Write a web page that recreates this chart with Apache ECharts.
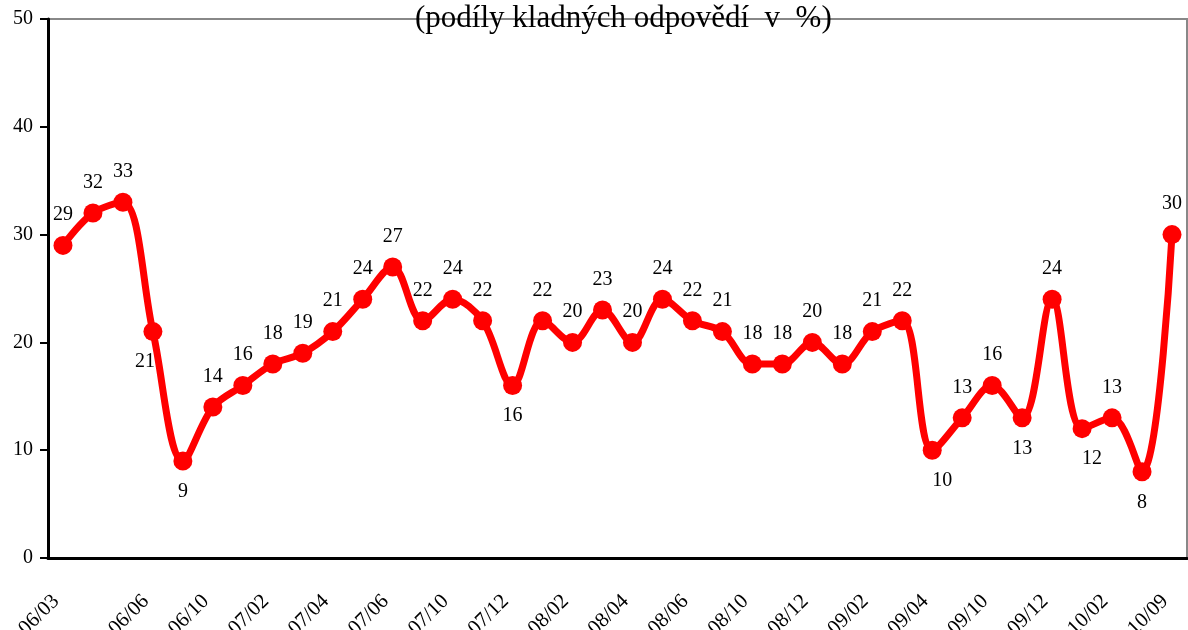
<!DOCTYPE html>
<html>
<head>
	<meta charset="UTF-8">
	<title>podíly kladných odpovědí</title>
	<script src="https://cdn.jsdelivr.net/npm/echarts@6/dist/echarts.min.js"></script>
	<style>
		html, body {
			margin: 0;
			padding: 0;
			background: #fff;
		}
		#main {
			width: 1188px;
			height: 630px;
		}
	</style>
</head>
<body>
<div id="main"></div>
<script type="text/javascript">
    // osa x - popisky jen u některých šetření
    var tickLabels = [
        '06/03', '', '', '06/06', '', '06/10', '', '07/02', '', '07/04',
        '', '07/06', '', '07/10', '', '07/12', '', '08/02', '', '08/04',
        '', '08/06', '', '08/10', '', '08/12', '', '09/02', '', '09/04',
        '', '09/10', '', '09/12', '', '10/02', '', '10/09'
    ];
    // podíly kladných odpovědí (%)
    var shares = [
        29, 32, 33, 21, 9, 14, 16, 18, 19, 21,
        24, 27, 22, 24, 22, 16, 22, 20, 23, 20,
        24, 22, 21, 18, 18, 20, 18, 21, 22, 10,
        13, 16, 13, 24, 12, 13, 8, 30
    ];
    // kde stojí popisek bodu: t = nad, b = pod, bl / br = pod a trochu do strany
    var labelPlace = [
        't', 't', 't', 'bl', 'b', 't', 't', 't', 't', 't',
        't', 't', 't', 't', 't', 'b', 't', 't', 't', 't',
        't', 't', 't', 't', 't', 't', 't', 't', 't', 'br',
        't', 't', 'b', 't', 'br', 't', 'b', 't'
    ];
    var yTicks = {min: 0, max: 50, step: 10};

    var serif = '"Liberation Serif", "DejaVu Serif", serif';

    var placeStyle = {
        t: {position: 'top', offset: [0, 0]},
        b: {position: 'bottom', offset: [0, 0]},
        bl: {position: 'bottom', offset: [-8, 0]},
        br: {position: 'bottom', offset: [10, 0]}
    };

    var points = shares.map(function (v, i) {
        var p = placeStyle[labelPlace[i]];
        return {value: v, label: {position: p.position, offset: p.offset}};
    });

    var myChart = echarts.init(document.getElementById('main'), null, {renderer: 'canvas'});

    myChart.setOption({
        animation: false,
        backgroundColor: '#fff',
        title: {
            text: '(podíly kladných odpovědí  v  %)',
            left: 415,
            top: 3,
            padding: 0,
            textStyle: {
                fontFamily: serif,
                fontSize: 31,
                fontWeight: 'normal',
                color: '#000'
            }
        },
        grid: {
            left: 48,
            right: 1,
            top: 19,
            bottom: 72,
            outerBoundsMode: 'none',
            containLabel: false,
            show: true,
            borderColor: '#888',
            borderWidth: 2,
            backgroundColor: 'transparent'
        },
        xAxis: {
            type: 'category',
            data: tickLabels,
            boundaryGap: true,
            axisLine: {lineStyle: {color: '#000', width: 3}},
            axisTick: {
                interval: 0,
                length: 8,
                lineStyle: {color: '#000', width: 2}
            },
            axisLabel: {
                interval: 0,
                rotate: 45,
                margin: 33,
                padding: [0, 10, 0, 0],
                color: '#000',
                fontFamily: serif,
                fontSize: 21
            },
            splitLine: {show: false}
        },
        yAxis: {
            type: 'value',
            min: yTicks.min,
            max: yTicks.max,
            interval: yTicks.step,
            axisLine: {show: true, lineStyle: {color: '#000', width: 3}},
            axisTick: {
                show: true,
                length: 8,
                lineStyle: {color: '#000', width: 2}
            },
            axisLabel: {
                margin: 15,
                color: '#000',
                fontFamily: serif,
                fontSize: 20
            },
            splitLine: {show: false}
        },
        series: [
            {
                type: 'line',
                data: points,
                smooth: 0.35,
                symbol: 'circle',
                symbolSize: 19,
                lineStyle: {color: '#ff0000', width: 7},
                itemStyle: {color: '#ff0000'},
                label: {
                    show: true,
                    distance: 11,
                    color: '#000',
                    fontFamily: serif,
                    fontSize: 20
                }
            }
        ]
    });
</script>
</body>
</html>
